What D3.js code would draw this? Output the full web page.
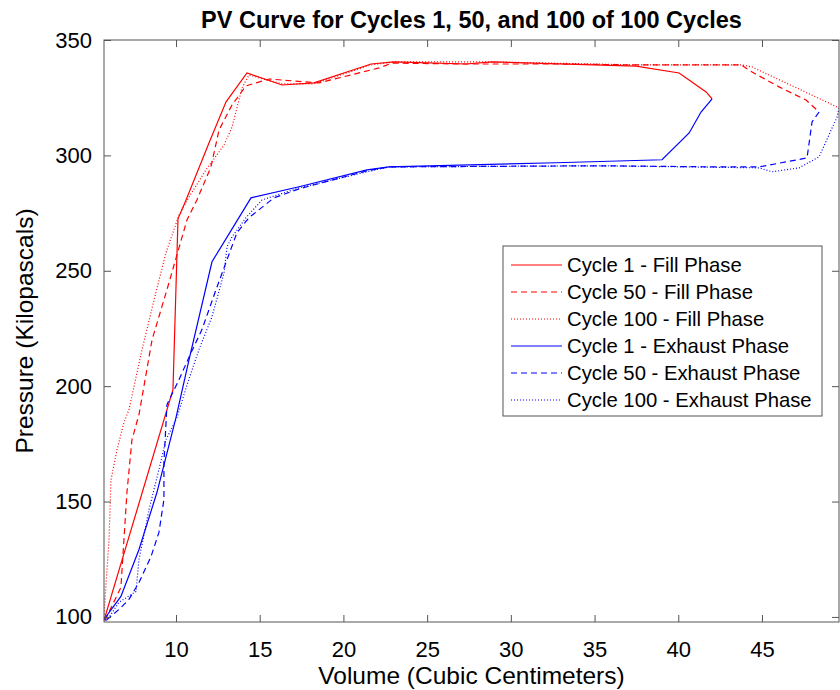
<!DOCTYPE html>
<html>
<head>
<meta charset="utf-8">
<script src="https://cdn.jsdelivr.net/npm/d3@7"></script>
<style>
  body { margin: 0; background: #fff; }
  text { font-family: "Liberation Sans", Arial, sans-serif; }
</style>
</head>
<body>
<script>
// volume (cc) and pressure (kPa)
const fill1V = [5.70, 9.82, 10.12, 10.6, 11.97, 12.99, 14.24, 16.33, 18.24, 21.65, 23.02, 27.32, 28.88, 37.48, 40.05, 41.66, 42.02];
const fill1P = [98.5, 198.5, 272.5, 280.7, 305.4, 323.2, 335.7, 330.5, 331.4, 339.6, 340.5, 339.6, 340.5, 338.7, 335.7, 327.5, 324.5];

const fill50V = [5.76, 6.71, 7.07, 7.37, 7.79, 8.57, 9.46, 10.66, 11.25, 12.09, 12.57, 13.35, 14.18, 15.56, 18.54, 22.13, 22.90, 27.32, 32.88, 37.66, 43.75, 44.41, 46.02, 47.63, 48.41];
const fill50P = [98.5, 112.8, 153.9, 176.8, 187.7, 220.1, 241.8, 272.1, 280.7, 295.0, 311.0, 321.9, 330.1, 333.1, 331.4, 337.9, 340.0, 339.6, 339.6, 339.2, 339.2, 336.1, 329.7, 324.0, 318.8];

const fill100V = [5.70, 5.76, 6.00, 6.12, 6.48, 6.89, 7.19, 7.97, 8.69, 9.40, 10.18, 10.78, 11.79, 12.87, 13.35, 13.94, 14.36, 15.44, 16.33, 18.24, 21.65, 23.02, 28.88, 37.66, 43.81, 44.41, 49.6];
const fill100P = [98.5, 107.6, 133.5, 159.5, 172.5, 184.2, 189.8, 215.8, 237.4, 257.8, 274.2, 282.0, 293.7, 304.5, 312.3, 329.2, 334.8, 332.7, 331.0, 331.0, 339.2, 340.5, 340.5, 339.2, 339.2, 338.3, 320.6];

const exh1V = [42.02, 41.36, 40.65, 39.03, 32.70, 22.72, 21.41, 17.35, 14.48, 12.15, 10.78, 10.0, 8.86, 7.79, 6.71, 5.70];
const exh1P = [324.5, 318.8, 309.7, 298.1, 296.8, 295.0, 293.7, 286.4, 281.6, 253.9, 211.5, 186.4, 153.9, 129.2, 108.9, 98.9];

const exh50V = [48.41, 47.99, 47.69, 44.83, 42.44, 35.27, 22.72, 21.41, 17.35, 15.85, 14.36, 13.64, 12.39, 11.55, 10.90, 10.18, 9.46, 9.28, 9.28, 8.98, 8.51, 7.79, 7.19, 6.59, 5.82];
const exh50P = [318.8, 314.5, 298.9, 295.0, 295.0, 295.5, 295.0, 293.3, 285.5, 281.6, 273.0, 266.5, 241.8, 224.5, 214.5, 202.8, 192.0, 166.9, 150.9, 136.6, 126.2, 114.9, 107.6, 103.2, 98.5];

const exh100V = [49.6, 49.49, 48.41, 47.22, 45.60, 44.83, 35.27, 22.72, 21.41, 17.35, 15.14, 14.18, 13.35, 13.05, 12.87, 12.15, 11.37, 10.66, 10.06, 9.40, 8.98, 8.39, 7.79, 7.61, 6.59, 6.00, 5.76];
const exh100P = [320.6, 316.7, 299.4, 294.6, 292.9, 294.6, 295.5, 295.0, 292.9, 285.9, 280.7, 273.0, 264.7, 260.4, 249.1, 230.1, 215.8, 200.6, 186.4, 176.8, 163.9, 146.5, 124.9, 111.0, 106.3, 99.8, 98.1];

const seriesNames = ["Cycle 1 - Fill Phase", "Cycle 50 - Fill Phase", "Cycle 100 - Fill Phase",
  "Cycle 1 - Exhaust Phase", "Cycle 50 - Exhaust Phase", "Cycle 100 - Exhaust Phase"];
const seriesV = [fill1V, fill50V, fill100V, exh1V, exh50V, exh100V];
const seriesP = [fill1P, fill50P, fill100P, exh1P, exh50P, exh100P];
const seriesColor = ["#ff0000", "#ff0000", "#ff0000", "#0000ff", "#0000ff", "#0000ff"];
const seriesDash = [null, "6,4", "1,2", null, "6,4", "1,2"];

const xTicks = [10, 15, 20, 25, 30, 35, 40, 45];
const yTicks = [100, 150, 200, 250, 300, 350];

const width = 840, height = 690;
const margin = {top: 40, right: 1, bottom: 68, left: 104};
const w = width - margin.left - margin.right;
const h = height - margin.top - margin.bottom;

const svg = d3.select("body").append("svg")
    .attr("width", width)
    .attr("height", height);

const x = d3.scaleLinear().domain([5.7, 49.6]).range([0, w]);
const y = d3.scaleLinear().domain([97.8, 350]).range([h, 0]);

const g = svg.append("g").attr("transform", `translate(${margin.left},${margin.top})`);

g.append("clipPath").attr("id", "clip")
  .append("rect").attr("width", w).attr("height", h);

// lines
const line = d3.line().x(d => x(d[0])).y(d => y(d[1]));
seriesV.forEach((vs, i) => {
  const pts = vs.map((v, j) => [v, seriesP[i][j]]);
  g.append("path")
    .attr("clip-path", "url(#clip)")
    .attr("d", line(pts))
    .attr("fill", "none")
    .attr("stroke", seriesColor[i])
    .attr("stroke-width", 1.2)
    .attr("stroke-dasharray", seriesDash[i]);
});

// axes, ticks inward on all four sides
const axisColor = "#555";
const tl = 7;
const styleAxis = sel => {
  sel.select(".domain").remove();
  sel.selectAll("line").attr("stroke", axisColor);
  sel.selectAll("text").attr("fill", "#000").style("font-size", "22px");
};
g.append("g").attr("transform", `translate(0,${h})`)
  .call(d3.axisBottom(x).tickValues(xTicks).tickSize(-tl).tickPadding(19))
  .call(styleAxis);
g.append("g")
  .call(d3.axisTop(x).tickValues(xTicks).tickSize(-tl).tickFormat(""))
  .call(styleAxis);
g.append("g")
  .call(d3.axisLeft(y).tickValues(yTicks).tickSize(-tl).tickPadding(12))
  .call(styleAxis);
g.append("g").attr("transform", `translate(${w},0)`)
  .call(d3.axisRight(y).tickValues(yTicks).tickSize(-tl).tickFormat(""))
  .call(styleAxis);

g.append("rect")
  .attr("width", w).attr("height", h)
  .attr("fill", "none").attr("stroke", axisColor).attr("stroke-width", 1);

// labels
svg.append("text")
  .attr("x", margin.left + w / 2).attr("y", 28)
  .attr("text-anchor", "middle")
  .style("font-size", "23.5px").style("font-weight", "bold")
  .text("PV Curve for Cycles 1, 50, and 100 of 100 Cycles");

svg.append("text")
  .attr("x", margin.left + w / 2).attr("y", 684)
  .attr("text-anchor", "middle")
  .style("font-size", "24.5px")
  .text("Volume (Cubic Centimeters)");

svg.append("text")
  .attr("transform", `translate(33,${margin.top + h / 2}) rotate(-90)`)
  .attr("text-anchor", "middle")
  .style("font-size", "24.5px")
  .text("Pressure (Kilopascals)");

// legend
const lg = svg.append("g").attr("transform", "translate(503,246)");
lg.append("rect")
  .attr("width", 319).attr("height", 170)
  .attr("fill", "#fff").attr("stroke", "#555");
seriesNames.forEach((name, i) => {
  const yy = 19 + i * 27;
  lg.append("line")
    .attr("x1", 8).attr("x2", 59).attr("y1", yy).attr("y2", yy)
    .attr("stroke", seriesColor[i]).attr("stroke-width", 1)
    .attr("stroke-dasharray", seriesDash[i]);
  lg.append("text")
    .attr("x", 64).attr("y", yy + 7)
    .style("font-size", "20.3px")
    .text(name);
});
</script>
</body>
</html>
